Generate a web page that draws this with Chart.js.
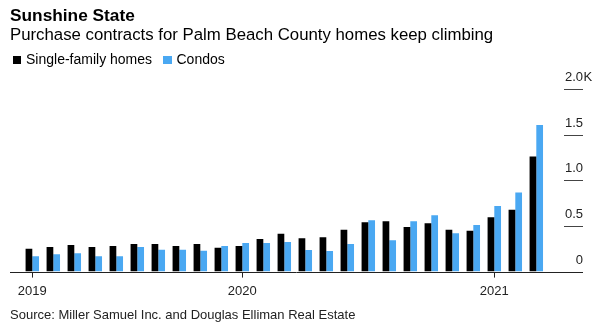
<!DOCTYPE html>
<html>
<head>
<meta charset="utf-8">
<script src="https://cdn.jsdelivr.net/npm/chart.js@4.4.0/dist/chart.umd.min.js"></script>
<style>
  html, body { margin: 0; padding: 0; background: #fff; }
  body { width: 600px; height: 329px; position: relative; overflow: hidden; font-family: "Liberation Sans", Arial, sans-serif; color: #000; }
  #chartBox { position: absolute; left: 0; top: 0; width: 600px; height: 329px; }
  .txt { position: absolute; line-height: 1; white-space: nowrap; }
  .title { left: 10px; top: 7px; font-size: 17.3px; font-weight: bold; }
  .subtitle { left: 10px; top: 27px; font-size: 16.8px; }
  .legend { top: 52px; font-size: 14px; }
  .swatch { position: absolute; top: 55.7px; width: 8.5px; height: 8.5px; }
  .source { left: 10px; top: 307.5px; font-size: 13px; color: #222; }
</style>
</head>
<body>
<div id="chartBox"><canvas id="myChart" width="600" height="329"></canvas></div>
<div class="txt title">Sunshine State</div>
<div class="txt subtitle">Purchase contracts for Palm Beach County homes keep climbing</div>
<div class="swatch" style="left:12.7px;background:#000;"></div>
<div class="txt legend" style="left:26px;">Single-family homes</div>
<div class="swatch" style="left:163px;background:#4aa8f2;"></div>
<div class="txt legend" style="left:176.5px;">Condos</div>
<div class="txt source">Source: Miller Samuel Inc. and Douglas Elliman Real Estate</div>
<script>
// monthly contracts, March 2019 - March 2021
const months = [
    '2019-03', '2019-04', '2019-05', '2019-06', '2019-07', '2019-08', '2019-09', '2019-10', '2019-11', '2019-12',
    '2020-01', '2020-02', '2020-03', '2020-04', '2020-05', '2020-06', '2020-07', '2020-08', '2020-09', '2020-10', '2020-11', '2020-12',
    '2021-01', '2021-02', '2021-03'
];
const singleFamily = [
    251, 270, 292, 270, 281, 303, 303, 281, 303, 262,
    281, 358, 416, 365, 376, 460, 541, 552, 489, 530, 460, 448,
    595, 679, 1264
];
const condos = [
    168, 190, 200, 168, 168, 270, 240, 240, 229, 281,
    314, 314, 325, 237, 226, 303, 563, 343, 552, 617, 420, 511,
    719, 869, 1607
];
const yTicks = [0, 500, 1000, 1500, 2000];
const yTickLabels = ['0', '0.5', '1.0', '1.5', '2.0'];

const FONT = '"Liberation Sans", Arial, sans-serif';

function isYearStart(index) {
    return index === 0 || months[index].slice(5) === '01';
}

// baseline plus the short right-hand value guides
const sideAxis = {
    id: 'sideAxis',
    afterDraw(chart) {
        const ctx = chart.ctx;
        const y = chart.scales.y;
        ctx.save();
        // baseline across the whole width
        const y0 = Math.round(y.getPixelForValue(0)) + 0.5;
        ctx.strokeStyle = '#222';
        ctx.lineWidth = 1;
        ctx.beginPath();
        ctx.moveTo(10, y0);
        ctx.lineTo(583, y0);
        ctx.stroke();

        ctx.font = '13px ' + FONT;
        ctx.fillStyle = '#222';
        ctx.textBaseline = 'alphabetic';
        yTicks.forEach((v, i) => {
            const py = Math.round(y.getPixelForValue(v)) + 0.5;
            if (v > 0) {
                ctx.strokeStyle = '#444';
                ctx.beginPath();
                ctx.moveTo(564, py);
                ctx.lineTo(583, py);
                ctx.stroke();
            }
            ctx.textAlign = 'right';
            ctx.fillText(yTickLabels[i], 583, py - 8.5);
            if (i === yTicks.length - 1) {
                ctx.textAlign = 'left';
                ctx.fillText('K', 583.5, py - 8.5);
            }
        });
        ctx.restore();
    }
};

const ctx = document.getElementById('myChart').getContext('2d');
const chart = new Chart(ctx, {
    type: 'bar',
    data: {
        labels: months,
        datasets: [
            {
                label: 'Single-family homes',
                data: singleFamily,
                backgroundColor: '#000',
                borderWidth: 0
            },
            {
                label: 'Condos',
                data: condos,
                backgroundColor: '#4aa8f2',
                borderWidth: 0
            }
        ]
    },
    options: {
        responsive: false,
        animation: false,
        layout: { padding: { left: 21.8, right: 53.2, top: 89.3, bottom: 0 } },
        plugins: {
            legend: { display: false },
            tooltip: { enabled: false }
        },
        datasets: {
            bar: { barPercentage: 1, categoryPercentage: 0.64 }
        },
        scales: {
            x: {
                offset: true,
                border: { display: false },
                grid: {
                    offset: false,
                    drawOnChartArea: false,
                    drawTicks: true,
                    tickLength: 6,
                    color: (c) => isYearStart(c.index) ? '#222' : 'rgba(0,0,0,0)'
                },
                ticks: {
                    autoSkip: false,
                    maxRotation: 0,
                    padding: 6,
                    color: '#222',
                    font: { family: FONT, size: 13 },
                    callback: (val, index) => isYearStart(index) ? months[index].slice(0, 4) : ''
                },
                afterFit: (scale) => { scale.height = 57.4; }
            },
            y: {
                display: false,
                min: 0,
                max: 2000
            }
        }
    },
    plugins: [sideAxis]
});
</script>
</body>
</html>
